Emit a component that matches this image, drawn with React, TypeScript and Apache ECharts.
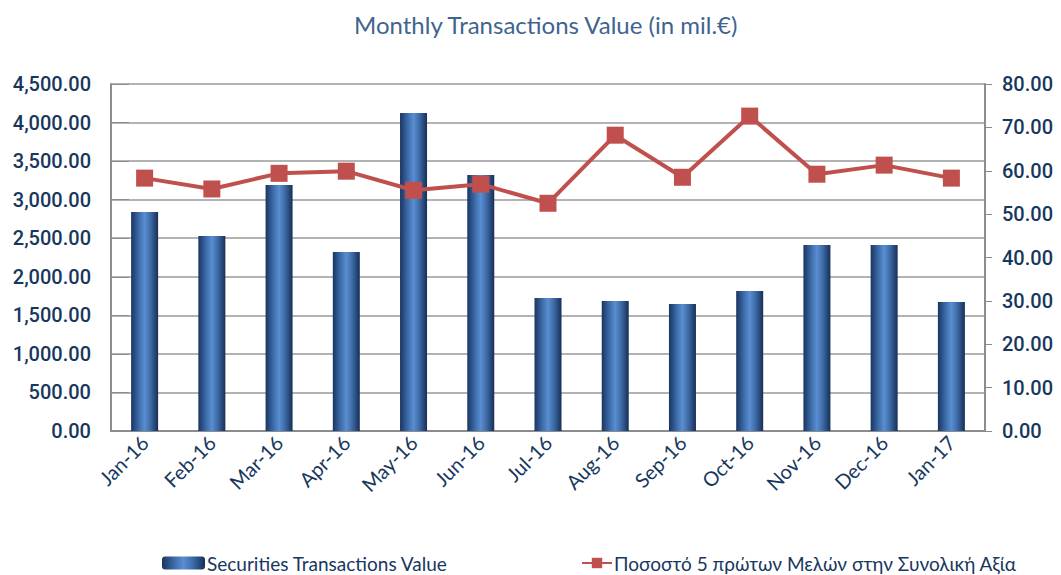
import React, { useEffect, useRef } from "react";
import * as echarts from "echarts";

const categories = ["Jan-16", "Feb-16", "Mar-16", "Apr-16", "May-16", "Jun-16", "Jul-16", "Aug-16", "Sep-16", "Oct-16", "Nov-16", "Dec-16", "Jan-17"];
const transactionsValue = [2840, 2530, 3190, 2320, 4125, 3320, 1725, 1686, 1647, 1816, 2412, 2412, 1673];
const top5Share = [58.3, 55.8, 59.4, 59.9, 55.5, 56.9, 52.5, 68.2, 58.5, 72.6, 59.2, 61.3, 58.3];

const barName = "Securities Transactions Value";
const lineName = "Ποσοστό 5 πρώτων Μελών στην Συνολική Αξία";

const fmt = (v: number) => v.toLocaleString("en-US", { minimumFractionDigits: 2, maximumFractionDigits: 2 });

export default function App() {
  const ref = useRef<HTMLDivElement>(null);
  useEffect(() => {
    if (!ref.current) return;
    const chart = echarts.init(ref.current, null, { renderer: "svg" });
    const barGrad = new echarts.graphic.LinearGradient(0, 0, 1, 0, [
      { offset: 0, color: "#1a3560" },
      { offset: 0.3, color: "#3e6eac" },
      { offset: 0.5, color: "#5a8ed1" },
      { offset: 0.72, color: "#3c6aa6" },
      { offset: 1, color: "#172f55" },
    ]);
    chart.setOption({
      animation: false,
      backgroundColor: "#ffffff",
      title: {
        text: "Monthly Transactions Value (in mil.€)",
        left: 349,
        top: 7,
        textStyle: { fontFamily: "Lato", fontSize: 24, fontWeight: "normal", color: "#41648f" },
      },
      legend: [
        {
          data: [barName],
          left: 157,
          top: 548,
          itemWidth: 43,
          itemHeight: 13,
          itemGap: 4,
          textStyle: { fontFamily: "Lato", fontSize: 19, lineHeight: 20, color: "#17375e", padding: [0, 0, 0, -3] },
        },
        {
          data: [lineName],
          left: 576,
          top: 548,
          itemWidth: 30,
          itemHeight: 13,
          textStyle: { fontFamily: "Lato", fontSize: 19, lineHeight: 20, color: "#17375e", padding: [0, 0, 0, -3] },
        },
      ],
      grid: { left: 111, right: 76, top: 84, bottom: 144, containLabel: false },
      xAxis: {
        type: "category",
        data: categories,
        axisLine: { lineStyle: { color: "#8c8c8c", width: 2 } },
        axisTick: { show: false },
        axisLabel: {
          rotate: 45,
          interval: 0,
          margin: 8,
          fontFamily: "Lato",
          fontSize: 20,
          color: "#17375e",
        },
      },
      yAxis: [
        {
          type: "value",
          min: 0,
          max: 4500,
          interval: 500,
          axisLine: { show: true, lineStyle: { color: "#8c8c8c", width: 2 } },
          axisTick: { show: true, inside: true, length: 18, lineStyle: { color: "#8c8c8c" } },
          splitLine: { show: true, lineStyle: { color: "#b3b3b3", width: 2 } },
          axisLabel: {
            formatter: (v: number) => fmt(v),
            fontFamily: "Roboto",
            fontSize: 20,
            fontWeight: 500,
            color: "#17375e",
            margin: 20,
          },
        },
        {
          type: "value",
          min: 0,
          max: 80,
          interval: 10,
          position: "right",
          axisLine: { show: true, lineStyle: { color: "#8c8c8c", width: 2 } },
          axisTick: { show: true, length: 7, lineStyle: { color: "#8c8c8c" } },
          splitLine: { show: false },
          axisLabel: {
            formatter: (v: number) => v.toFixed(2),
            fontFamily: "Roboto",
            fontSize: 20,
            fontWeight: 500,
            color: "#17375e",
            margin: 17,
          },
        },
      ],
      series: [
        {
          name: barName,
          type: "bar",
          data: transactionsValue,
          barWidth: 27,
          itemStyle: { color: barGrad },
          yAxisIndex: 0,
        },
        {
          name: lineName,
          type: "line",
          data: top5Share,
          yAxisIndex: 1,
          symbol: "rect",
          symbolSize: 17,
          lineStyle: { color: "#c0504d", width: 4 },
          itemStyle: { color: "#c0504d" },
        },
      ],
    });
    return () => chart.dispose();
  }, []);
  return <div ref={ref} style={{ width: 1061, height: 575, position: "absolute", left: 0, top: 0 }} />;
}
